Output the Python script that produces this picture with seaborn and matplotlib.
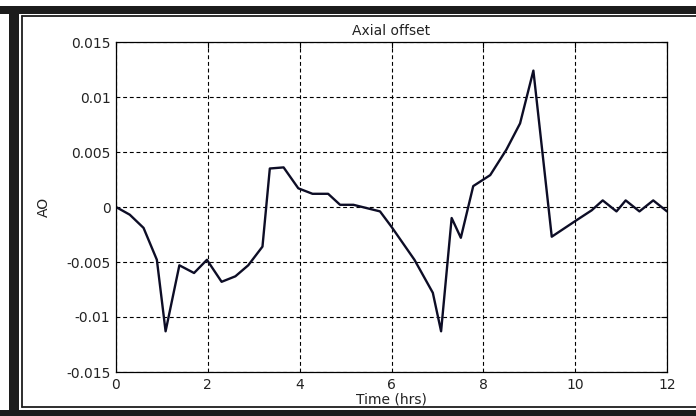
import numpy as np
import pandas as pd
import seaborn as sns
import matplotlib.pyplot as plt
from matplotlib.patches import Rectangle
from matplotlib.lines import Line2D


# data
time_hrs = [0, 0.3, 0.6, 0.89, 1.08, 1.38, 1.7, 1.98, 2.3, 2.6, 2.88, 3.19,
            3.35, 3.65, 3.97, 4.28, 4.62, 4.88, 5.17, 5.75, 6.0, 6.5, 6.9,
            7.08, 7.31, 7.51, 7.78, 8.15, 8.5, 8.8, 9.09, 9.49, 10.03, 10.36,
            10.6, 10.9, 11.1, 11.4, 11.7, 12.0]
axial_offset = [0, -0.0007, -0.0019, -0.0048, -0.0113, -0.0053, -0.006,
                -0.0048, -0.0068, -0.0063, -0.0053, -0.0036, 0.0035, 0.0036,
                0.0017, 0.0012, 0.0012, 0.0002, 0.0002, -0.0004, -0.0018,
                -0.0048, -0.0078, -0.0113, -0.001, -0.0028, 0.0019, 0.0029,
                0.0052, 0.0076, 0.0124, -0.0027, -0.0012, -0.0003, 0.0006,
                -0.0004, 0.0006, -0.0004, 0.0006, -0.0004]
x_ticks = [0, 2, 4, 6, 8, 10, 12]
y_ticks = [-0.015, -0.01, -0.005, 0, 0.005, 0.01, 0.015]
y_tick_labels = ['-0.015', '-0.01', '-0.005', '0', '0.005', '0.01', '0.015']

df = pd.DataFrame({'Time (hrs)': time_hrs, 'AO': axial_offset})

sns.set_theme(style='white')
plt.rcParams['font.family'] = ['DejaVu Sans']
plt.rcParams['xtick.direction'] = 'in'
plt.rcParams['ytick.direction'] = 'in'

fig = plt.figure(figsize=(6.96, 4.16), dpi=100)
ax = fig.add_axes([116 / 696, 44 / 416, 551 / 696, 330 / 416])

sns.lineplot(data=df, x='Time (hrs)', y='AO', ax=ax, color='#0d0d26',
             linewidth=1.7, sort=False)

ax.set_xlim(0, 12)
ax.set_ylim(-0.015, 0.015)
ax.set_xticks(x_ticks)
ax.set_yticks(y_ticks)
ax.set_yticklabels(y_tick_labels)
ax.tick_params(axis='both', labelsize=10, length=4, width=0.8, color='black',
               top=True, right=True, pad=4, labelcolor='#222222')
ax.grid(True, color='black', linestyle=(0, (3.5, 2.5)), linewidth=0.8)
for s in ax.spines.values():
    s.set_color('black')
    s.set_linewidth(0.9)

ax.set_title('Axial offset', fontsize=10, pad=5, color='#222222')
ax.set_xlabel('Time (hrs)', fontsize=10, labelpad=1, color='#222222')
ax.set_ylabel('AO', fontsize=10, labelpad=11, color='#222222')

#Frame around the picture
W, H = 696, 416
fig.add_artist(Rectangle((0, (H - 14) / H), 1, 8 / H, transform=fig.transFigure,
                         color='#1c1c1c', lw=0))
fig.add_artist(Rectangle((0, 0), 1, 6 / H, transform=fig.transFigure,
                         color='#1c1c1c', lw=0))
fig.add_artist(Rectangle((9 / W, 0), 10 / W, (H - 6) / H, transform=fig.transFigure,
                         color='#1c1c1c', lw=0))
fig.add_artist(Line2D([21.5 / W, 1], [(H - 16) / H] * 2, transform=fig.transFigure,
                      color='#1c1c1c', lw=1.3))
fig.add_artist(Line2D([21.5 / W, 1], [9.5 / H] * 2, transform=fig.transFigure,
                      color='#1c1c1c', lw=1.3))
fig.add_artist(Line2D([21.5 / W] * 2, [9.5 / H, (H - 16) / H], transform=fig.transFigure,
                      color='#1c1c1c', lw=1.3))

fig.savefig('out.png', dpi=100)
